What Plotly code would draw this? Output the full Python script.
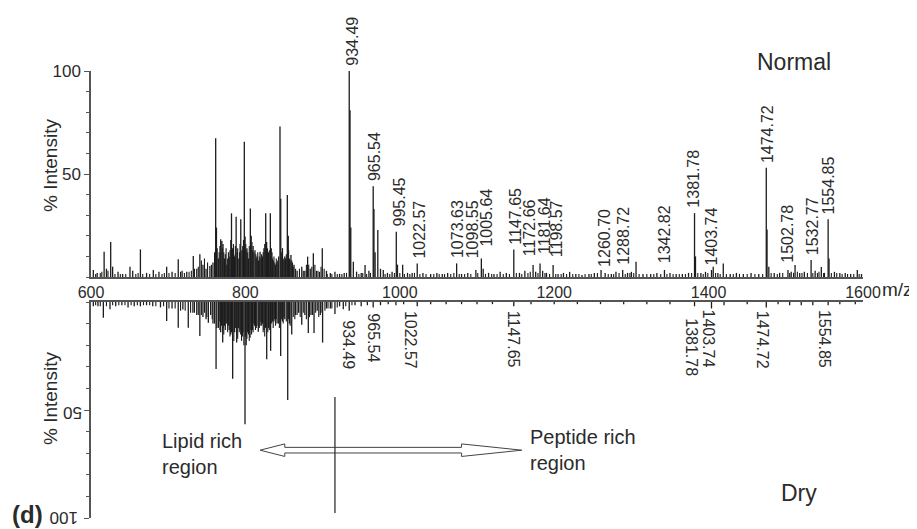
import plotly.graph_objects as go

# ---------------- data ----------------
# Normal (upper) spectrum: labelled and major peaks
top_mz = [603, 608, 617, 620, 625.5, 628, 635, 641, 650.5, 654, 664, 672, 680.7, 688, 698, 705,
          713, 718, 724, 732.5, 737, 741, 745, 749, 754, 758, 761.5, 762.5, 765, 768, 769.5, 771,
          773, 776, 779, 782, 783.5, 786, 788, 789.5, 791.5, 794, 795.5, 798.6, 799.6, 802, 804,
          806.4, 807.5, 810, 812.4, 815, 817, 819, 822, 824, 826.3, 827.5, 830, 832.3, 833.5, 836,
          839, 842, 844.8, 845.8, 848, 851, 854.3, 855.5, 859, 863, 867, 873, 877, 880.6, 884, 888,
          892, 896, 899.6, 905, 910, 916, 922, 928, 934.49, 935.5, 936.5, 939.8, 944, 950, 955, 960,
          965.54, 966.5, 968, 971.5, 975, 978.6, 984, 990, 995.45, 997, 1003.7, 1010, 1016, 1022.57,
          1030, 1040, 1048, 1055, 1062, 1073.63, 1080, 1088, 1098.55, 1105.64, 1108, 1115, 1122,
          1130, 1138, 1147.65, 1155, 1162, 1172.66, 1176, 1181.64, 1185, 1190, 1198.57, 1205, 1212,
          1220, 1228, 1236, 1245, 1252, 1260.70, 1266, 1274, 1280, 1288.72, 1295, 1300, 1306, 1315,
          1325, 1333, 1342.82, 1350, 1358, 1366, 1374, 1381.78, 1383, 1390, 1396, 1403.74, 1406,
          1412, 1419, 1428, 1436, 1445, 1455, 1465, 1474.72, 1475.7, 1478, 1485, 1492, 1502.78,
          1507, 1512, 1518, 1524, 1532.77, 1538, 1546, 1550, 1554.85, 1556, 1563, 1570, 1577, 1584,
          1592.6, 1598]
top_int = [3.4, 2, 12.3, 4, 17, 5, 2.6, 1.5, 5, 3, 13.4, 2, 3.4, 2.5, 5, 2.5,
           8.6, 3, 2.5, 10.2, 4, 11, 6, 4, 5.3, 7, 67.3, 24, 9, 18.3, 17.5, 16,
           9, 6, 10, 30.9, 14, 10, 29.3, 12, 9, 28, 13, 65.7, 19.6, 14, 9,
           33.3, 20, 15, 13, 10, 8, 12.3, 10, 14, 30.9, 17, 12, 30.9, 14, 8,
           6, 8, 73, 38, 14, 10, 39.8, 20, 10.7, 6, 3, 5, 3, 9.9, 4, 11.5,
           3, 2.5, 13.9, 3, 2, 2.5, 1.5, 2, 100, 81, 24, 7.4, 2.6, 2, 5.8, 3,
           44, 33, 12, 22.8, 4, 3.4, 2, 2.5, 22, 6, 6, 2, 2, 6.6,
           2, 1.5, 2, 1.5, 2, 6.6, 1.5, 2, 3.4, 9, 4, 2, 1.5,
           2.5, 2, 13.4, 2, 3, 5.8, 2.5, 6.6, 3, 2, 5.8, 1.5, 2,
           2.5, 1.5, 1, 1.5, 2, 3.4, 2, 1.5, 2.5, 3.4, 2, 2.5, 7.4, 1.5,
           1.5, 2, 3.4, 2, 1.5, 1.5, 2, 31, 10, 2, 2.5, 3.4, 5,
           2, 6.6, 1.5, 2, 1.5, 2, 1.5, 53, 23, 5, 2, 2, 3.4,
           2.5, 5.8, 2, 2.5, 8.2, 3, 4.8, 2, 28, 9, 2.5, 2, 2, 1.5,
           3.4, 1.5]
# Normal spectrum: small peaks of the dense lipid cluster and the baseline
top_minor_mz = [606, 612, 614, 622, 631, 638, 645, 658, 661, 667, 676, 684, 692, 695, 701, 709,
                716, 721, 727, 730, 734, 739, 743, 747, 751, 756, 760, 763.5, 766, 767, 770, 772,
                774, 775, 777, 778, 780, 781, 784.5, 785, 787, 790, 792.5, 793, 796.5, 797.5,
                800.5, 801, 803, 805, 808.5, 809, 811, 813.5, 814, 816, 818, 820, 821, 823, 825,
                828.5, 829, 831, 834.5, 835, 837, 838, 840, 841, 843, 847, 849, 850, 852, 853,
                856, 857, 858, 860, 861, 862, 865, 870, 875, 879, 882, 886, 890, 894, 898, 902,
                906, 912, 919, 925, 931, 947, 952, 957, 962, 981, 987, 993, 1000, 1006, 1013,
                1019, 1026, 1034, 1044, 1051, 1058, 1066, 1070, 1077, 1084, 1092, 1101, 1111,
                1119, 1126, 1134, 1142, 1151, 1158, 1166, 1169, 1179, 1188, 1194, 1202, 1209,
                1216, 1224, 1232, 1240, 1248, 1256, 1270, 1277, 1284, 1292, 1298, 1303, 1310,
                1320, 1329, 1338, 1346, 1354, 1362, 1370, 1378, 1386, 1393, 1399, 1409, 1415,
                1423, 1432, 1440, 1450, 1460, 1470, 1481, 1489, 1496, 1505, 1510, 1515, 1521,
                1528, 1535, 1541, 1543, 1549, 1559, 1566, 1573, 1580, 1588, 1595]
top_minor_int = [1.5, 2, 2.5, 3, 1.5, 1.5, 1.5, 1.5, 2, 1.5, 1.5, 1.5, 1.5, 2, 2, 2,
                 2.5, 2, 2.5, 3, 4, 5, 8, 9, 7, 6, 12, 14, 12, 15, 14, 12,
                 11, 14, 9, 12, 13, 18, 16, 11, 15, 14, 12, 16, 15, 18,
                 16, 13, 12, 15, 17, 13, 12, 11, 9, 12, 10, 9, 11, 12, 16,
                 14, 11, 13, 12, 9, 10, 7, 9, 7, 10, 12, 9, 8, 9, 11,
                 13, 9, 8, 8, 7, 5, 4, 4, 3, 6, 6, 5, 6, 3, 5, 4,
                 1.5, 1.5, 1.5, 1.5, 2, 1.5, 2, 1.5, 2, 1.5, 1.5, 2, 2, 1.5, 1.5,
                 2, 1.5, 1.5, 1.5, 1.5, 1.5, 1.5, 2, 1.5, 1.5, 1.5, 2, 1.5,
                 1.5, 1.5, 1.5, 1.5, 2, 1.5, 2, 2.5, 2, 2, 1.5, 1.5, 1.5,
                 1.5, 1.5, 1.5, 1.5, 1.5, 2, 1.5, 1.5, 2, 1.5, 2, 2, 1.5,
                 1.5, 1.5, 1.5, 1.5, 1.5, 1.5, 1.5, 2, 2, 1.5, 2, 2, 1.5,
                 1.5, 1.5, 1.5, 1.5, 1.5, 1.5, 2, 1.5, 2, 2, 2, 2.5, 2,
                 2, 2, 2, 2.5, 2, 2, 2, 1.5, 1.5, 1.5, 1.5]

# Dry (lower, mirrored) spectrum
bot_mz = [603, 609, 616, 624.6, 632, 640, 648, 656, 664, 672, 680, 690, 698, 705, 713, 719,
          726, 732, 737, 741, 745, 749, 752, 755, 758, 762, 765, 768, 770.6, 773, 776, 779, 781,
          783.5, 786, 788.7, 791, 794, 796, 799.5, 801, 803, 806, 809, 812, 814, 816.7, 819, 822,
          824, 827.6, 830, 832.7, 835, 838, 841, 845.7, 848, 851, 854.8, 857, 860, 865, 869, 873,
          877, 881.5, 885, 888.9, 893, 897, 900, 905, 910, 916, 922, 926.8, 934.49, 942, 950, 958,
          965.54, 975, 985, 995, 1005, 1022.57, 1040, 1060, 1080, 1100, 1120, 1147.65, 1170, 1200,
          1230, 1260, 1290, 1320, 1350, 1381.78, 1403.74, 1420, 1450, 1474.72, 1490, 1505, 1520,
          1535, 1554.85, 1570, 1590]
bot_int = [2, 2, 7.3, 3.3, 2, 1.5, 2.5, 2, 2, 1.5, 2, 2.5, 8.8, 3, 11.9, 3.5,
           11.9, 5, 6, 15.7, 7, 8, 9.6, 6, 10, 31, 12, 14, 18.8, 11, 10, 13, 15,
           35.5, 14, 18.8, 12, 15, 16, 56.6, 20, 14, 16.6, 13, 11, 12, 13.8, 11, 10,
           13, 26.5, 12, 22.6, 9, 8, 10, 25, 9, 8, 45.4, 10, 15, 6, 5, 10.5,
           6, 14.4, 6, 14.4, 4, 6, 18.8, 3, 3, 5.6, 2, 3.3, 4, 1.5, 2, 1.5,
           2.5, 1.5, 1, 1.5, 1, 2, 1, 1, 1, 1, 1, 2, 1, 1,
           1, 1, 1, 1, 1, 2, 3, 1.5, 1, 2.5, 1, 1.5, 1.5,
           1.5, 1.5, 1, 1]
bot_minor_mz = [606, 612, 620, 628, 636, 644, 652, 660, 668, 676, 684, 694, 701, 709, 716, 722,
                729, 734, 739, 743, 747, 750, 757, 760, 763, 766, 767, 769, 771, 772, 774, 775,
                777, 778, 780, 782, 785, 787, 790, 792, 793, 795, 797, 798, 800, 802, 804, 805,
                807, 808, 810, 811, 813, 815, 818, 820, 821, 823, 825, 826, 829, 831, 834, 836,
                837, 839, 840, 843, 844, 847, 849, 850, 853, 856, 858, 862, 864, 867, 871, 875,
                879, 883, 887, 891, 895, 898, 903, 907, 912, 919, 930, 938]
bot_minor_int = [1.5, 2, 2, 1.5, 1.5, 1.5, 1.5, 1.5, 1.5, 1.5, 2, 2, 3, 3, 4, 4,
                 5, 5, 6, 6, 5, 7, 8, 10, 12, 9, 13, 11, 12, 15, 13, 10,
                 14, 11, 16, 14, 18, 12, 17, 14, 13, 18, 14, 20, 16, 17, 15, 18,
                 13, 15, 14, 10, 13, 11, 12, 9, 11, 14, 16, 12, 14, 13, 10, 12,
                 9, 11, 8, 10, 12, 8, 10, 7, 9, 8, 11, 7, 8, 6, 7, 5,
                 8, 7, 6, 5, 7, 5, 4, 3, 3, 2.5, 2, 1.5]

top_label_text = ["934.49", "965.54", "995.45", "1022.57", "1073.63", "1098.55", "1005.64",
                  "1147.65", "1172.66", "1181.64", "1198.57", "1260.70", "1288.72", "1342.82",
                  "1381.78", "1403.74", "1474.72", "1502.78", "1532.77", "1554.85"]
top_label_mz = [934.49, 965.54, 995.45, 1022.57, 1073.63, 1098.55, 1105.64,
                1147.65, 1172.66, 1181.64, 1198.57, 1260.70, 1288.72, 1342.82,
                1381.78, 1403.74, 1474.72, 1502.78, 1532.77, 1554.85]
top_label_int = [100, 44, 22, 6.6, 6.6, 6.6, 12.5, 13.4, 7.5, 8.5, 7, 2.5, 3.4, 4.5,
                 31, 3.4, 53, 4.5, 8.2, 28]

bot_label_text = ["934.49", "965.54", "1022.57", "1147.65", "1381.78", "1403.74", "1474.72", "1554.85"]
bot_label_mz = [934.49, 965.54, 1022.57, 1147.65, 1381.78, 1403.74, 1474.72, 1554.85]
bot_label_int = [6, 2.8, 1.9, 1.9, 5, 1.4, 1.9, 1.4]

x_ticks = [600, 800, 1000, 1200, 1400, 1600]
y_ticks = [50, 100]

# ---------------- styling / layout helpers ----------------
# The page body keeps the browser's default 8 px margin, so the figure is drawn
# 8 px smaller and all screen positions below are measured in window pixels.
OFF = 8
WIN_W, WIN_H = 917, 529
FW, FH = WIN_W - OFF, WIN_H - OFF
L_SCR, R_SCR = 91, 863          # plot area left / right in window pixels
FONT = "Liberation Sans, Arial, sans-serif"
INK = "#2b2b2b"
# small horizontal nudges (px) of the peak labels, as in the reference
top_label_nudge = [3, 2, 3, 2, 1, -3, 5, 2, -4, 5, 3, 4, 0, 0, -1, 0, 2, 0, 1, 0]
bot_label_nudge = [-1, 0, -6, 0, -3, -3, -3, -3]


def px2x(px):
    return (px - L_SCR) / (R_SCR - L_SCR)


def py2y(py):
    return 1 - (py - OFF) / FH


def sticks(mz, inten):
    xs, ys = [], []
    for m, v in zip(mz, inten):
        xs += [m, m, None]
        ys += [0, v, None]
    return xs, ys


fig = go.Figure()
for mz, it, xa, ya, w in [(top_minor_mz, top_minor_int, "x", "y", 1.1),
                          (top_mz, top_int, "x", "y", 1.3),
                          (bot_minor_mz, bot_minor_int, "x2", "y2", 1.1),
                          (bot_mz, bot_int, "x2", "y2", 1.3)]:
    sx, sy = sticks(mz, it)
    fig.add_trace(go.Scatter(x=sx, y=sy, mode="lines", line=dict(color="#1c1c1c", width=w),
                             xaxis=xa, yaxis=ya, hoverinfo="skip", showlegend=False))

axis_common = dict(showgrid=False, zeroline=False, showline=True, linecolor="#555",
                   automargin=False)

fig.update_layout(
    width=FW, height=FH,
    margin=dict(l=L_SCR - OFF, r=FW - (R_SCR - OFF), t=0, b=0, autoexpand=False),
    paper_bgcolor="white", plot_bgcolor="white",
    font=dict(family=FONT, color=INK),
    xaxis=dict(domain=[0, 1], range=[600, 1600], anchor="y", tickvals=x_ticks,
               ticks="", linewidth=2, tickfont=dict(size=16, color=INK), **axis_common),
    xaxis2=dict(domain=[0, 1], range=[600, 1600], anchor="y2", matches="x", side="top",
                showticklabels=False, ticks="", linewidth=2, **axis_common),
    yaxis=dict(domain=[py2y(277), py2y(71)], range=[0, 100], anchor="x", tickvals=y_ticks,
               ticks="outside", ticklen=5, tickcolor="#555", linewidth=1.5,
               minor=dict(dtick=10, tick0=0, ticks="outside", ticklen=3, tickcolor="#555"),
               tickfont=dict(size=17, color=INK), **axis_common),
    yaxis2=dict(domain=[py2y(518), py2y(302)], range=[100, 0], anchor="x2", tickvals=y_ticks,
                ticks="outside", ticklen=5, tickcolor="#555", linewidth=1.5,
                showticklabels=False,
                minor=dict(dtick=10, tick0=0, ticks="outside", ticklen=3, tickcolor="#555"),
                **axis_common),
)

ann = []
for t, m, v, dx in zip(top_label_text, top_label_mz, top_label_int, top_label_nudge):
    ann.append(dict(x=m, y=v, xref="x", yref="y", text=t, textangle=-90, showarrow=False,
                    xanchor="center", yanchor="bottom", yshift=3, xshift=dx,
                    font=dict(size=16, color=INK)))
for t, m, v, dx in zip(bot_label_text, bot_label_mz, bot_label_int, bot_label_nudge):
    ann.append(dict(x=m, y=v, xref="x2", yref="y2", text=t, textangle=90, showarrow=False,
                    xanchor="center", yanchor="top", yshift=-3, xshift=dx,
                    font=dict(size=16, color=INK)))


def pann(text, px, py, size, **kw):
    d = dict(x=px2x(px), y=py2y(py), xref="paper", yref="paper", text=text, showarrow=False,
             xanchor="center", yanchor="middle",
             font=dict(size=size, color=INK, family=FONT))
    d.update(kw)
    return d


ann += [
    # upside-down tick labels of the mirrored (Dry) intensity axis
    pann(str(y_ticks[0]), 84, 413, 17, textangle=180, xanchor="right"),
    pann(str(y_ticks[1]), 80, 518, 17, textangle=180, xanchor="right"),
    pann("% Intensity", 50, 166, 19, textangle=-90),
    pann("% Intensity", 50, 399, 19, textangle=-90),
    pann("Normal", 794, 62, 23),
    pann("Dry", 799, 493, 23),
    pann("<b>(d)</b>", 27, 514, 24),
    pann("m/z", 880, 289, 19, xanchor="left"),
    pann("Lipid rich<br>region", 160, 428, 20, xanchor="left", yanchor="top", align="left"),
    pann("Peptide rich<br>region", 528, 424, 20, xanchor="left", yanchor="top", align="left"),
]
fig.update_layout(annotations=ann)

# double-headed hollow arrow and the vertical divider (bottom panel data coords)
yc = 68.6
path = (f"M 819,{yc} L 851,{yc-2.9} L 851,{yc-1.3} L 1080,{yc-1.3} L 1080,{yc-2.9} "
        f"L 1158,{yc} L 1080,{yc+2.9} L 1080,{yc+1.3} L 851,{yc+1.3} L 851,{yc+2.9} Z")
fig.add_shape(type="path", path=path, xref="x2", yref="y2",
              line=dict(color="#444", width=1), fillcolor="white")
fig.add_shape(type="line", x0=916, x1=916, y0=44, y1=97.7, xref="x2", yref="y2",
              line=dict(color="#333", width=1.3))

fig.write_html("out.html")
